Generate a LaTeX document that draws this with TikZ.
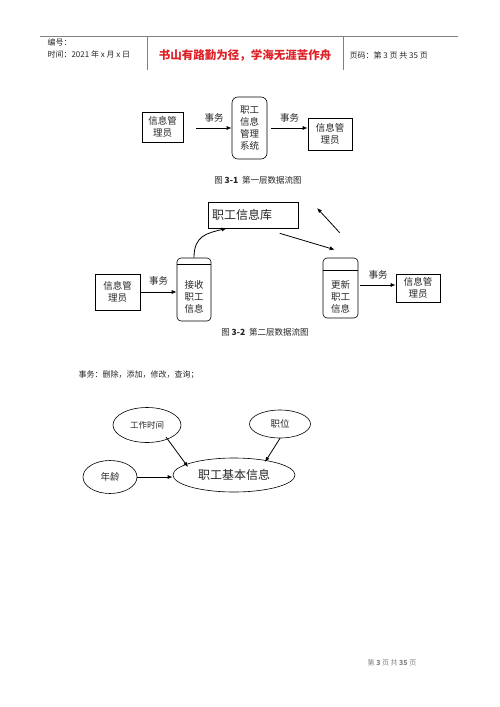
\documentclass[tikz,border=0pt]{standalone}
\usepackage{fontspec}
\setmainfont{Noto Sans CJK SC}
\usepackage{xcolor}
\usetikzlibrary{arrows.meta, shapes.geometric, positioning}
\definecolor{mottored}{RGB}{222, 32, 38}
\newcommand{\proctext}[2]{\parbox[c][#1][b]{30pt}{\centering #2}}

\begin{document}
\begin{tikzpicture}[
    x=1pt, y=-1pt,
    every node/.style={font=\fontsize{9.5}{12}\selectfont, text=black!85},
    entity/.style={draw, line width=0.6pt, align=center, inner sep=1pt},
    proc/.style={draw, line width=0.6pt, rounded corners=4pt, inner sep=0pt},
    attr/.style={draw, ellipse, line width=0.6pt, inner sep=0pt},
    arrow/.style={-{Latex[length=5pt,width=4pt]}, line width=0.8pt},
    caption/.style={font=\fontsize{8.5}{10}\selectfont},
]
\useasboundingbox[fill=white] (0,0) rectangle (500,707);

%% Kopfzeile
\draw[gray, line width=0.5pt] (40,36) -- (458,36);
\draw[gray, line width=0.5pt] (147,36) -- (147,70);
\draw[gray, line width=0.5pt] (343,36) -- (343,70);
\node[anchor=west, font=\fontsize{8}{10}\selectfont] (num)  at (44,42) {编号：};
\node[anchor=west, font=\fontsize{8}{10}\selectfont] (date) at (44,54) {时间：2021 年 x 月 x 日};
\node[font=\fontsize{11.5}{13}\selectfont\bfseries, text=mottored] (motto) at (245,55)
    {书山有路勤为径，学海无涯苦作舟};
\node[anchor=west, font=\fontsize{8}{10}\selectfont] (page) at (346,55) {页码：第 3 页  共 35 页};

%% Erste Ebene
\node[entity, minimum width=41, minimum height=30] at (162.5,127) (in1)  {信息管\\理员};
\node[proc, minimum width=35, minimum height=62, align=center, inner sep=1pt,
      rounded corners=6pt] at (249.5,128) (sys) {职工\\信息\\管理\\系统};
\node[entity, minimum width=44, minimum height=32] at (330,134) (out1) {信息管\\理员};
\node[caption] at (258,180) (cap1) {图 \textbf{3-1}\ \ 第一层数据流图};

\draw[arrow] ([xshift=13]in1.east |- sys.west) -- (sys.west) node[midway, above=2pt]{事务};
\draw[arrow] ([xshift=4]sys.east) -- (sys.east -| out1.west) node[midway, above=2pt]{事务};

%% Zweite Ebene
\node[entity, minimum width=90, minimum height=26, font=\fontsize{12}{14}\selectfont,
      text width=82, align=left] at (253,215) (store) {职工信息库};
\node[entity, minimum width=45, minimum height=36] at (117.5,292) (in2)  {信息管\\理员};
\node[proc, minimum width=34, minimum height=63] at (194,289.5) (recv)
    {\proctext{47pt}{接收\\职工\\信息}};
\node[proc, minimum width=35, minimum height=60] at (340.5,288) (upd)
    {\proctext{49pt}{更新\\职工\\信息}};
\node[entity, minimum width=44, minimum height=28] at (418,288) (out2) {信息管\\理员};
\node[caption] at (265,332) (cap2) {图 \textbf{3-2}\ \ 第二层数据流图};
\coordinate (back) at (317,208);

\draw[line width=0.6pt] ([shift={(0,7)}]recv.north west) -- ([shift={(0,7)}]recv.north east);
\draw[line width=0.6pt] ([shift={(0,13)}]upd.north west) -- ([shift={(0,13)}]upd.north east);

\draw[arrow] (in2.east) -- (in2.east -| recv.west) node[midway, above=3pt]{事务};
\draw[arrow] (recv.north) .. controls +(0,-22) and +(-20,5) .. ([xshift=19]store.south west);
\draw[arrow] ([shift={(72,5)}]store.south west) -- ([shift={(12,-8)}]upd.north west);
\draw[arrow] ([shift={(17,-25)}]upd.north west) -- (back);
\draw[arrow] ([shift={(2,-3)}]upd.east) -- ([yshift=3]out2.west) node[midway, above=2pt]{事务};

\node[anchor=west, font=\fontsize{8}{10}\selectfont] at (75,375) (ops) {事务：删除，添加，修改，查询；};

%% Attribute
\node[attr, minimum width=68, minimum height=35, font=\fontsize{8.5}{10}\selectfont] at (147,425) (work) {工作时间};
\node[attr, minimum width=61, minimum height=28] at (280,424) (pos)  {职位};
\node[attr, minimum width=54, minimum height=33] at (110,477) (age)  {年龄};
\node[attr, minimum width=122, minimum height=34, font=\fontsize{12}{14}\selectfont] at (234,475) (basic) {职工基本信息};

\draw[arrow] ([shift={(19,12)}]work.center) -- ([shift={(-46,-8)}]basic.center);
\draw[arrow] (pos.south) -- ([shift={(31,-13)}]basic.center);
\draw[arrow] (age.east) -- (age.east -| basic.west);

\node[font=\fontsize{7}{9}\selectfont, text=gray] at (392,663) (foot) {第 \textbf{3} 页 共 \textbf{35} 页};

\end{tikzpicture}
\end{document}
